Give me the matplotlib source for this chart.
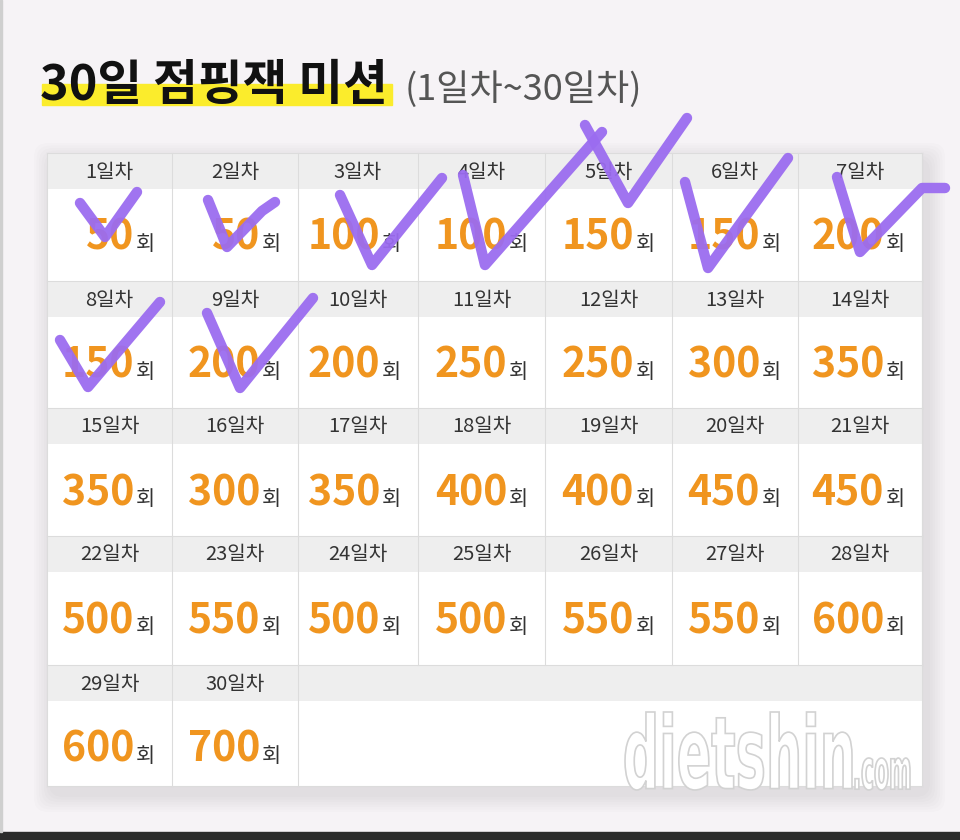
import matplotlib
matplotlib.use('Agg')
import matplotlib.pyplot as plt
from matplotlib.patches import Rectangle, FancyBboxPatch, PathPatch
from matplotlib.textpath import TextPath
from matplotlib.font_manager import FontProperties
from matplotlib.transforms import Affine2D

plt.rcParams['font.family'] = ['Noto Sans CJK KR', 'DejaVu Sans']

# ─── data ─────────────────────────────────────────────
VALUES = [50, 50, 100, 100, 150, 150, 200,
          150, 200, 200, 250, 250, 300, 350,
          350, 300, 350, 400, 400, 450, 450,
          500, 550, 500, 500, 550, 550, 600,
          600, 700]
DAYS = [f'{i + 1}일차' for i in range(len(VALUES))]
CHECKED = [1, 2, 3, 4, 5, 6, 7, 8, 9]
# hand-drawn check strokes, offsets from the checked cell's top-left corner
CHECK_STROKES = {
    1: [(33, 50), (58, 84), (90, 39)],
    2: [(36, 47), (55, 94), (90, 58), (103, 49)],
    3: [(42, 42), (74, 112), (144, 25)],
    4: [(45, 22), (67, 112), (184, -21)],
    5: [(40, -28), (83, 50), (142, -35)],
    6: [(13, 29), (36, 115), (116, 5)],
    7: [(39, 24), (62, 99), (124, 35), (147, 35)],
    8: [(13, 59), (41, 106), (113, 21)],
    9: [(35, 32), (68, 107), (141, 17)],
}

TITLE = '30일 점핑잭 미션'
SUBTITLE = '(1일차~30일차)'

# ─── layout (pixel space) ─────────────────────────────
COL_EDGES = [47, 172, 298, 418, 545, 672, 798, 922]
ROW_TOPS = [153, 281, 408, 536, 665]
TABLE_BOTTOM = 786
HEAD_H = 36

BG = '#f6f3f6'
HEAD_BG = '#eeeeee'
LINE = '#dcdcdc'
ORANGE = '#f0951f'
DARK = '#333333'
PURPLE = '#9b6cf0'
YELLOW = '#fbec2c'

fig = plt.figure(figsize=(9.6, 8.4), dpi=100)
fig.patch.set_facecolor(BG)
ax = fig.add_axes([0, 0, 1, 1])
ax.set_xlim(0, 960)
ax.set_ylim(840, 0)
ax.axis('off')

# title
ax.add_patch(Rectangle((42, 84), 350, 21, color=YELLOW, zorder=1))
ax.text(40, 100, TITLE, fontsize=35, fontweight='heavy', color='#111111',
        va='baseline', ha='left', zorder=2)
ax.text(405, 100, SUBTITLE, fontsize=26, fontweight='light', color='#555555',
        va='baseline', ha='left', zorder=2)

# table shadow
left, right = COL_EDGES[0], COL_EDGES[-1]
top = ROW_TOPS[0]
for i in range(7):
    pad = 18 - i * 2.5
    ax.add_patch(FancyBboxPatch((left - pad + 5, top - pad + 8),
                                right - left + 2 * pad, TABLE_BOTTOM - top + 2 * pad,
                                boxstyle='round,pad=0,rounding_size=14',
                                facecolor='#000000', edgecolor='none', alpha=0.012,
                                zorder=2))

# cells
n_cols = len(COL_EDGES) - 1
for r, rt in enumerate(ROW_TOPS):
    rb = ROW_TOPS[r + 1] if r + 1 < len(ROW_TOPS) else TABLE_BOTTOM
    ax.add_patch(Rectangle((left, rt), right - left, HEAD_H, facecolor=HEAD_BG,
                           edgecolor='none', zorder=3))
    ax.add_patch(Rectangle((left, rt + HEAD_H), right - left, rb - rt - HEAD_H,
                           facecolor='white', edgecolor='none', zorder=3))
    ax.plot([left, right], [rt, rt], color=LINE, lw=0.8, zorder=4)
    for c in range(n_cols):
        idx = r * n_cols + c
        cl, cr = COL_EDGES[c], COL_EDGES[c + 1]
        if idx >= len(VALUES):
            continue
        ax.plot([cr, cr], [rt, rb], color=LINE, lw=0.8, zorder=4)
        ax.text((cl + cr) / 2, rt + HEAD_H / 2 + 1, DAYS[idx], fontsize=14.5,
                color=DARK, ha='center', va='center', zorder=5)
        ax.text(cr - 17, rt + 97, '회', fontsize=15, color=DARK,
                ha='right', va='baseline', zorder=5)
        ax.text(cr - 38, rt + 97, str(VALUES[idx]), fontsize=29.5,
                fontweight='heavy', color=ORANGE, ha='right', va='baseline', zorder=5)
ax.plot([left, left], [top, TABLE_BOTTOM], color=LINE, lw=0.8, zorder=4)
ax.plot([right, right], [top, TABLE_BOTTOM], color=LINE, lw=0.8, zorder=4)
ax.plot([left, right], [TABLE_BOTTOM, TABLE_BOTTOM], color=LINE, lw=0.8, zorder=4)


# watermark: condensed outlined text fitted into a box
def fitted_text(s, x0, y0, x1, y1):
    tp = TextPath((0, 0), s, size=1, prop=FontProperties(family='DejaVu Sans', weight='bold'))
    ext = tp.get_extents()
    sx = (x1 - x0) / ext.width
    sy = (y1 - y0) / ext.height
    tr = Affine2D().translate(-ext.x0, -ext.y0).scale(sx, -sy).translate(x0, y1)
    path = tr.transform_path(tp)
    ax.add_patch(PathPatch(path, facecolor='white', edgecolor='#d2d2d2', lw=1.2,
                           zorder=6))


fitted_text('dietshin', 625, 712, 852, 790)
fitted_text('.com', 855, 758, 910, 790)

# check marks
for day in CHECKED:
    r, c = divmod(day - 1, n_cols)
    x0, y0 = COL_EDGES[c], ROW_TOPS[r]
    pts = CHECK_STROKES[day]
    ax.plot([x0 + p[0] for p in pts], [y0 + p[1] for p in pts], color=PURPLE,
            lw=7.5, solid_capstyle='round', solid_joinstyle='round', alpha=0.95,
            zorder=8)

# bottom bar
ax.add_patch(Rectangle((0, 832), 960, 8, color='#2b2b2b', zorder=9))
ax.add_patch(Rectangle((0, 0), 2, 832, color='#cfcfcf', zorder=9))

fig.savefig('out.png', dpi=100, facecolor=BG)
